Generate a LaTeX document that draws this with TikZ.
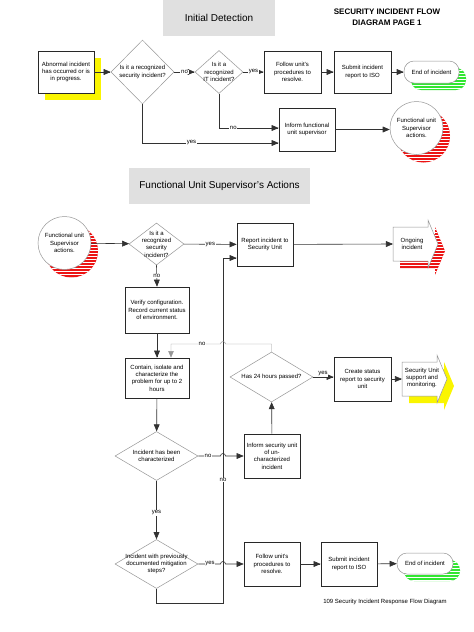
\documentclass[tikz,border=0pt]{standalone}
\usepackage{fontspec}
\setmainfont{Liberation Sans}
\usetikzlibrary{shapes,arrows,shadows,patterns}

\newcommand{\flagShape}[2]{\path[#1] (#2) -- ++(35,0) -- ++(0,-7) -- ++(10,24) -- ++(-10,24) -- ++(0,-7) -- ++(-35,0) -- cycle;}

\begin{document}
\begin{tikzpicture}[x=1pt,y=-1pt,>=triangle 45,
  every node/.style={font=\fontsize{6}{7.4}\selectfont, align=center},
  boxNode/.style={draw=boxColor, line width=0.7pt, fill=white, rectangle, inner sep=1pt},
  diaNode/.style={draw=diaColor, line width=0.5pt, fill=white, diamond, inner sep=0pt},
  endNode/.style={draw=diaColor, line width=0.5pt, fill=white, rounded corners=10pt, minimum width=55pt, minimum height=22pt,
    general shadow={fill=shGreen, shadow xshift=7pt, shadow yshift=-7pt},
    general shadow={pattern=horizontal lines, pattern color=white, shadow xshift=7pt, shadow yshift=-7pt}},
  supNode/.style={draw=diaColor, line width=0.5pt, fill=white, circle, minimum size=53pt, inner sep=0pt,
    general shadow={fill=shRed, shadow xshift=7pt, shadow yshift=-8pt},
    general shadow={pattern=horizontal lines, pattern color=white, shadow xshift=7pt, shadow yshift=-8pt}},
  titleBox/.style={fill=titleGray, font=\fontsize{10}{12}\selectfont},
  conn/.style={draw=lineColor, line width=0.6pt},
  thinConn/.style={draw=diaColor, line width=0.45pt},
  lbl/.style={fill=white, inner sep=0.8pt}]
\definecolor{boxColor}{RGB}{40,40,40}
\definecolor{diaColor}{RGB}{150,150,150}
\definecolor{lineColor}{RGB}{50,50,50}
\definecolor{titleGray}{RGB}{224,224,224}
\definecolor{shRed}{RGB}{236,20,20}
\definecolor{shGreen}{RGB}{50,230,50}
\definecolor{shYellow}{RGB}{250,245,0}
\useasboundingbox (0,0) rectangle (474,632);

% initial detection
\node[titleBox, minimum width=112pt, minimum height=36pt] (title1) at (219,18) {Initial Detection};
\node[font=\bfseries\fontsize{8}{11.5}\selectfont] (head) at (387,17) {SECURITY INCIDENT FLOW\\DIAGRAM PAGE 1};
\node[boxNode, minimum width=56pt, minimum height=42pt,
  general shadow={fill=shYellow, shadow xshift=7pt, shadow yshift=-7pt}] (start) at (66,72) {Abnormal incident\\has occurred or is\\in progress.};
\node[diaNode, minimum width=63pt, minimum height=64pt, label={center:{Is it a recognized\\security incident?}}] (d1) at (142.5,72) {};
\node[diaNode, minimum width=48pt, minimum height=43pt, label={center:{Is it a\\recognized\\IT incident?}}] (d2) at (219,72) {};
\node[boxNode, minimum width=57pt, minimum height=42pt] (fol1) at (292.5,72) {Follow unit's\\procedures to\\resolve.};
\node[boxNode, minimum width=57pt, minimum height=42pt] (sub1) at (362.5,72) {Submit incident\\report to ISO};
\node[endNode] (end1) at (431.5,72) {End of incident};
\node[boxNode, minimum width=56pt, minimum height=43pt] (inf1) at (307,129.5) {Inform functional\\unit supervisor};
\node[supNode] (sup1) at (416.5,128) {Functional unit\\Supervisor\\actions.};

\draw[conn,->] (start) -- (d1);
\draw[conn,->] (d1) -- node[lbl] (no1) {no} (d2);
\draw[conn,->] (d2) -- node[lbl] (yes1) {yes} (fol1);
\draw[conn,->] (fol1) -- (sub1);
\draw[conn,->] (sub1) -- (end1);
\draw[conn,->] (d2.south) |- node[lbl, pos=0.62] (no2) {no} ([yshift=1.5pt]inf1.west);
\draw[conn,->] (d1.south) |- node[lbl, pos=0.68] (yes2) {yes} ([yshift=-13.5pt]inf1.west);
\draw[conn,->] (inf1.east) -- (inf1.east -| sup1.west);

% functional unit supervisor
\node[titleBox, minimum width=181pt, minimum height=36pt] (title2) at (219.5,186) {Functional Unit Supervisor's Actions};
\node[supNode] (sup2) at (64.5,243) {Functional unit\\Supervisor\\actions.};
\node[diaNode, minimum width=55pt, minimum height=42pt, label={center:{Is it a\\recognized\\security\\incident?}}] (d3) at (156.5,244) {};
\node[boxNode, minimum width=56pt, minimum height=43pt] (rep) at (265,244.5) {Report incident to\\Security Unit};
\flagShape{fill=shRed}{400,234}
\flagShape{pattern=horizontal lines, pattern color=white}{400,234}
\flagShape{draw=diaColor, line width=0.5pt, fill=white}{393,227}
\node (ong) at (412,244) {Ongoing\\incident};
\coordinate (ongIn) at (393,244);

\node[boxNode, minimum width=64pt, minimum height=46pt] (ver) at (157,310) {Verify configuration.\\Record current status\\of environment.};
\node[boxNode, minimum width=64pt, minimum height=40pt] (con) at (157,378) {Contain, isolate and\\characterize the\\problem for up to 2\\hours};
\node[diaNode, minimum width=83pt, minimum height=50pt, label={center:{Has 24 hours passed?}}] (d4) at (271.5,377) {};
\node[boxNode, minimum width=57pt, minimum height=44pt] (cre) at (362.5,379) {Create status\\report to security\\unit};
\flagShape{fill=shYellow}{409,369}
\flagShape{draw=diaColor, line width=0.5pt, fill=white}{402,362}
\node (sec) at (422,378) {Security Unit\\support and\\monitoring.};
\coordinate (secIn) at (402,379);

\node[diaNode, minimum width=83pt, minimum height=49pt, label={center:{Incident has been\\characterized}}] (d5) at (156.5,456) {};
\node[boxNode, minimum width=56pt, minimum height=44pt] (inf2) at (272,456) {Inform security unit\\of un-\\characterized\\incident};
\node[diaNode, minimum width=83pt, minimum height=49pt, label={center:{Incident with previously\\documented mitigation\\steps?}}] (d6) at (156.5,564) {};
\node[boxNode, minimum width=56pt, minimum height=44pt] (fol2) at (272,564) {Follow unit's\\procedures to\\resolve.};
\node[boxNode, minimum width=56pt, minimum height=44pt] (sub2) at (349,564) {Submit incident\\report to ISO};
\node[endNode, minimum width=56pt, minimum height=21pt] (end2) at (425,563.5) {End of incident};
\node (foot) at (385,602) {109 Security Incident Response Flow Diagram};

\draw[conn,->] (sup2) -- (d3);
\draw[conn,->] (d3) -- node[lbl] (yes3) {yes} (rep);
\draw[conn,->] (rep) -- (ongIn);
\draw[conn,->] (d3.south) -- node[lbl] (no3) {no} (ver.north);
\draw[conn,->] (ver) -- (con);
\draw[conn,->] (d6.south) |- (223,603) |- ([yshift=-13.5pt]rep.west);
\node[lbl] (no4) at (223,480) {no};
\draw[thinConn,->] (d4.north) |- (225.5,344) arc[start angle=0, end angle=-180, radius=2.5] -| ([xshift=14pt]con.north);
\node[lbl] (no5) at (202,344) {no};
\draw[conn,->] (con) -- (d5);
\draw[conn,->] (d5.east) -- (220.5,456) arc[start angle=180, end angle=360, radius=2.5] -- (inf2.west);
\node[lbl] (no6) at (208,456) {no};
\draw[conn,->] (inf2) -- (d4);
\draw[conn,->] (d4.east) -- (cre.west |- d4.east);
\node[lbl] (yes4) at (323,374) {yes};
\draw[conn,->] (cre.east |- secIn) -- (secIn);
\draw[conn,->] (d5) -- node[lbl, pos=0.55] (yes5) {yes} (d6);
\draw[conn,->] (d6.east) -- (220.5,564) arc[start angle=180, end angle=360, radius=2.5] -- (fol2.west);
\node[lbl] (yes6) at (210,564) {yes};
\draw[conn,->] (fol2) -- (sub2);
\draw[conn,->] (sub2) -- (end2);
\end{tikzpicture}
\end{document}
